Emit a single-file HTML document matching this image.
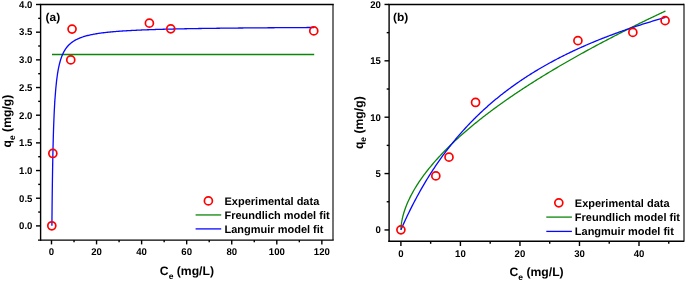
<!DOCTYPE html>
<html><head><meta charset="utf-8"><style>
html,body{margin:0;padding:0;background:#fff;}
svg{display:block;will-change:transform;}
text{font-family:"Liberation Sans",sans-serif;font-weight:bold;fill:#000;text-rendering:geometricPrecision;}
</style></head><body>
<svg width="685" height="283" viewBox="0 0 685 283">
<rect width="685" height="283" fill="#fff"/>
<line x1="39.85" y1="4.45" x2="333.75" y2="4.45" stroke="#000" stroke-width="1.4"/>
<line x1="40.60" y1="4.45" x2="40.60" y2="240.85" stroke="#000" stroke-width="1.4"/>
<line x1="38.00" y1="240.10" x2="333.75" y2="240.10" stroke="#000" stroke-width="1.4"/>
<line x1="333.00" y1="4.45" x2="333.00" y2="240.10" stroke="#000" stroke-width="1.1"/>
<line x1="51.50" y1="240.10" x2="51.50" y2="244.40" stroke="#000" stroke-width="1.4"/>
<text transform="translate(51.50,255.10) scale(0.96,0.98)" font-size="10" text-anchor="middle">0</text>
<line x1="96.56" y1="240.10" x2="96.56" y2="244.40" stroke="#000" stroke-width="1.4"/>
<text transform="translate(96.56,255.10) scale(0.96,0.98)" font-size="10" text-anchor="middle">20</text>
<line x1="141.62" y1="240.10" x2="141.62" y2="244.40" stroke="#000" stroke-width="1.4"/>
<text transform="translate(141.62,255.10) scale(0.96,0.98)" font-size="10" text-anchor="middle">40</text>
<line x1="186.68" y1="240.10" x2="186.68" y2="244.40" stroke="#000" stroke-width="1.4"/>
<text transform="translate(186.68,255.10) scale(0.96,0.98)" font-size="10" text-anchor="middle">60</text>
<line x1="231.74" y1="240.10" x2="231.74" y2="244.40" stroke="#000" stroke-width="1.4"/>
<text transform="translate(231.74,255.10) scale(0.96,0.98)" font-size="10" text-anchor="middle">80</text>
<line x1="276.80" y1="240.10" x2="276.80" y2="244.40" stroke="#000" stroke-width="1.4"/>
<text transform="translate(276.80,255.10) scale(0.96,0.98)" font-size="10" text-anchor="middle">100</text>
<line x1="321.86" y1="240.10" x2="321.86" y2="244.40" stroke="#000" stroke-width="1.4"/>
<text transform="translate(321.86,255.10) scale(0.96,0.98)" font-size="10" text-anchor="middle">120</text>
<line x1="74.03" y1="240.10" x2="74.03" y2="242.30" stroke="#000" stroke-width="1.4"/>
<line x1="119.09" y1="240.10" x2="119.09" y2="242.30" stroke="#000" stroke-width="1.4"/>
<line x1="164.15" y1="240.10" x2="164.15" y2="242.30" stroke="#000" stroke-width="1.4"/>
<line x1="209.21" y1="240.10" x2="209.21" y2="242.30" stroke="#000" stroke-width="1.4"/>
<line x1="254.27" y1="240.10" x2="254.27" y2="242.30" stroke="#000" stroke-width="1.4"/>
<line x1="299.33" y1="240.10" x2="299.33" y2="242.30" stroke="#000" stroke-width="1.4"/>
<line x1="36.00" y1="225.90" x2="40.60" y2="225.90" stroke="#000" stroke-width="1.4"/>
<text transform="translate(32.40,229.20) scale(0.96,0.98)" font-size="10" text-anchor="end">0.0</text>
<line x1="36.00" y1="198.22" x2="40.60" y2="198.22" stroke="#000" stroke-width="1.4"/>
<text transform="translate(32.40,201.53) scale(0.96,0.98)" font-size="10" text-anchor="end">0.5</text>
<line x1="36.00" y1="170.55" x2="40.60" y2="170.55" stroke="#000" stroke-width="1.4"/>
<text transform="translate(32.40,173.85) scale(0.96,0.98)" font-size="10" text-anchor="end">1.0</text>
<line x1="36.00" y1="142.88" x2="40.60" y2="142.88" stroke="#000" stroke-width="1.4"/>
<text transform="translate(32.40,146.18) scale(0.96,0.98)" font-size="10" text-anchor="end">1.5</text>
<line x1="36.00" y1="115.20" x2="40.60" y2="115.20" stroke="#000" stroke-width="1.4"/>
<text transform="translate(32.40,118.50) scale(0.96,0.98)" font-size="10" text-anchor="end">2.0</text>
<line x1="36.00" y1="87.53" x2="40.60" y2="87.53" stroke="#000" stroke-width="1.4"/>
<text transform="translate(32.40,90.83) scale(0.96,0.98)" font-size="10" text-anchor="end">2.5</text>
<line x1="36.00" y1="59.85" x2="40.60" y2="59.85" stroke="#000" stroke-width="1.4"/>
<text transform="translate(32.40,63.15) scale(0.96,0.98)" font-size="10" text-anchor="end">3.0</text>
<line x1="36.00" y1="32.18" x2="40.60" y2="32.18" stroke="#000" stroke-width="1.4"/>
<text transform="translate(32.40,35.48) scale(0.96,0.98)" font-size="10" text-anchor="end">3.5</text>
<line x1="36.00" y1="4.50" x2="40.60" y2="4.50" stroke="#000" stroke-width="1.4"/>
<text transform="translate(32.40,7.80) scale(0.96,0.98)" font-size="10" text-anchor="end">4.0</text>
<line x1="38.20" y1="212.06" x2="40.60" y2="212.06" stroke="#000" stroke-width="1.4"/>
<line x1="38.20" y1="184.39" x2="40.60" y2="184.39" stroke="#000" stroke-width="1.4"/>
<line x1="38.20" y1="156.71" x2="40.60" y2="156.71" stroke="#000" stroke-width="1.4"/>
<line x1="38.20" y1="129.04" x2="40.60" y2="129.04" stroke="#000" stroke-width="1.4"/>
<line x1="38.20" y1="101.36" x2="40.60" y2="101.36" stroke="#000" stroke-width="1.4"/>
<line x1="38.20" y1="73.69" x2="40.60" y2="73.69" stroke="#000" stroke-width="1.4"/>
<line x1="38.20" y1="46.01" x2="40.60" y2="46.01" stroke="#000" stroke-width="1.4"/>
<line x1="38.20" y1="18.34" x2="40.60" y2="18.34" stroke="#000" stroke-width="1.4"/>
<line x1="52.00" y1="54.50" x2="314.20" y2="54.50" stroke="#0a860a" stroke-width="1.3"/>
<path d="M51.90,225.80 L51.93,222.99 L51.95,220.25 L51.98,217.59 L52.00,215.00 L52.03,212.48 L52.05,210.03 L52.08,207.64 L52.10,205.31 L52.13,203.04 L52.15,200.83 L52.18,198.67 L52.20,196.57 L52.23,194.51 L52.25,192.51 L52.28,190.55 L52.30,188.64 L52.33,186.77 L52.35,184.94 L52.38,183.16 L52.40,181.41 L52.43,179.71 L52.45,178.04 L52.48,176.40 L52.51,174.80 L52.53,173.24 L52.56,171.71 L52.58,170.20 L52.61,168.73 L52.63,167.29 L52.66,165.88 L52.68,164.50 L52.71,163.14 L52.73,161.81 L52.76,160.50 L52.78,159.22 L52.81,157.97 L52.83,156.74 L52.86,155.53 L52.88,154.34 L52.91,153.17 L52.93,152.03 L52.96,150.90 L52.98,149.80 L53.01,148.72 L53.03,147.65 L53.06,146.60 L53.08,145.57 L53.11,144.56 L53.14,143.56 L53.16,142.59 L53.19,141.62 L53.21,140.68 L53.24,139.74 L53.26,138.83 L53.29,137.93 L53.31,137.04 L53.34,136.17 L53.36,135.31 L53.39,134.46 L53.41,133.63 L53.44,132.81 L53.46,132.00 L53.49,131.20 L53.51,130.42 L53.54,129.64 L53.56,128.88 L53.59,128.13 L53.61,127.39 L53.64,126.67 L53.66,125.95 L53.69,125.24 L53.72,124.54 L53.74,123.85 L53.77,123.17 L53.79,122.50 L53.82,121.84 L53.84,121.19 L53.87,120.55 L53.89,119.92 L53.92,119.29 L53.94,118.68 L53.97,118.07 L53.99,117.47 L54.02,116.87 L54.04,116.29 L54.07,115.71 L54.09,115.14 L54.12,114.58 L54.14,114.02 L54.17,113.47 L54.19,112.93 L54.22,112.39 L54.24,111.86 L54.27,111.34 L54.29,110.82 L54.32,110.31 L54.35,109.81 L54.37,109.31 L54.40,108.82 L54.42,108.33 L54.45,107.85 L54.47,107.38 L54.50,106.91 L54.52,106.44 L54.55,105.98 L54.57,105.53 L54.60,105.08 L54.62,104.64 L54.65,104.20 L54.67,103.77 L54.70,103.34 L54.72,102.91 L54.75,102.49 L54.77,102.08 L54.80,101.67 L54.82,101.26 L54.85,100.86 L54.87,100.46 L54.90,100.07 L54.90,100.07 L55.77,88.70 L56.63,80.36 L57.50,73.98 L58.36,68.94 L59.23,64.87 L60.10,61.50 L60.96,58.67 L61.83,56.26 L62.70,54.19 L63.56,52.38 L64.43,50.79 L65.29,49.38 L66.16,48.13 L67.03,47.00 L67.89,45.98 L68.76,45.06 L69.63,44.22 L70.49,43.45 L71.36,42.74 L72.22,42.09 L73.09,41.49 L73.96,40.93 L74.82,40.42 L75.69,39.93 L76.56,39.48 L77.42,39.06 L78.29,38.66 L79.15,38.29 L80.02,37.94 L80.89,37.60 L81.75,37.29 L82.62,36.99 L83.49,36.71 L84.35,36.44 L85.22,36.19 L86.08,35.95 L86.95,35.72 L87.82,35.50 L88.68,35.29 L89.55,35.09 L90.42,34.89 L91.28,34.71 L92.15,34.53 L93.01,34.36 L93.88,34.20 L94.75,34.05 L95.61,33.90 L96.48,33.75 L97.34,33.61 L98.21,33.48 L99.08,33.35 L99.94,33.22 L100.81,33.10 L101.68,32.98 L102.54,32.87 L103.41,32.76 L104.27,32.66 L105.14,32.55 L106.01,32.45 L106.87,32.36 L107.74,32.27 L108.61,32.17 L109.47,32.09 L110.34,32.00 L111.20,31.92 L112.07,31.84 L112.94,31.76 L113.80,31.68 L114.67,31.61 L115.54,31.54 L116.40,31.47 L117.27,31.40 L118.13,31.33 L119.00,31.27 L119.87,31.20 L120.73,31.14 L121.60,31.08 L122.47,31.02 L123.33,30.96 L124.20,30.91 L125.06,30.85 L125.93,30.80 L126.80,30.75 L127.66,30.69 L128.53,30.64 L129.39,30.60 L130.26,30.55 L131.13,30.50 L131.99,30.45 L132.86,30.41 L133.73,30.37 L134.59,30.32 L135.46,30.28 L136.32,30.24 L137.19,30.20 L138.06,30.16 L138.92,30.12 L139.79,30.08 L140.66,30.04 L141.52,30.01 L142.39,29.97 L143.25,29.93 L144.12,29.90 L144.99,29.87 L145.85,29.83 L146.72,29.80 L147.59,29.77 L148.45,29.73 L149.32,29.70 L150.18,29.67 L151.05,29.64 L151.92,29.61 L152.78,29.58 L153.65,29.55 L154.52,29.53 L155.38,29.50 L156.25,29.47 L157.11,29.44 L157.98,29.42 L158.85,29.39 L159.71,29.37 L160.58,29.34 L161.45,29.32 L162.31,29.29 L163.18,29.27 L164.04,29.24 L164.91,29.22 L165.78,29.20 L166.64,29.17 L167.51,29.15 L168.37,29.13 L169.24,29.11 L170.11,29.09 L170.97,29.07 L171.84,29.05 L172.71,29.03 L173.57,29.01 L174.44,28.99 L175.30,28.97 L176.17,28.95 L177.04,28.93 L177.90,28.91 L178.77,28.89 L179.64,28.87 L180.50,28.85 L181.37,28.84 L182.23,28.82 L183.10,28.80 L183.97,28.78 L184.83,28.77 L185.70,28.75 L186.57,28.73 L187.43,28.72 L188.30,28.70 L189.16,28.69 L190.03,28.67 L190.90,28.65 L191.76,28.64 L192.63,28.62 L193.50,28.61 L194.36,28.59 L195.23,28.58 L196.09,28.57 L196.96,28.55 L197.83,28.54 L198.69,28.52 L199.56,28.51 L200.43,28.50 L201.29,28.48 L202.16,28.47 L203.02,28.46 L203.89,28.44 L204.76,28.43 L205.62,28.42 L206.49,28.40 L207.35,28.39 L208.22,28.38 L209.09,28.37 L209.95,28.36 L210.82,28.34 L211.69,28.33 L212.55,28.32 L213.42,28.31 L214.28,28.30 L215.15,28.29 L216.02,28.28 L216.88,28.26 L217.75,28.25 L218.62,28.24 L219.48,28.23 L220.35,28.22 L221.21,28.21 L222.08,28.20 L222.95,28.19 L223.81,28.18 L224.68,28.17 L225.55,28.16 L226.41,28.15 L227.28,28.14 L228.14,28.13 L229.01,28.12 L229.88,28.11 L230.74,28.10 L231.61,28.09 L232.48,28.08 L233.34,28.07 L234.21,28.07 L235.07,28.06 L235.94,28.05 L236.81,28.04 L237.67,28.03 L238.54,28.02 L239.41,28.01 L240.27,28.00 L241.14,28.00 L242.00,27.99 L242.87,27.98 L243.74,27.97 L244.60,27.96 L245.47,27.96 L246.33,27.95 L247.20,27.94 L248.07,27.93 L248.93,27.92 L249.80,27.92 L250.67,27.91 L251.53,27.90 L252.40,27.89 L253.26,27.89 L254.13,27.88 L255.00,27.87 L255.86,27.86 L256.73,27.86 L257.60,27.85 L258.46,27.84 L259.33,27.84 L260.19,27.83 L261.06,27.82 L261.93,27.82 L262.79,27.81 L263.66,27.80 L264.53,27.80 L265.39,27.79 L266.26,27.78 L267.12,27.78 L267.99,27.77 L268.86,27.76 L269.72,27.76 L270.59,27.75 L271.46,27.74 L272.32,27.74 L273.19,27.73 L274.05,27.73 L274.92,27.72 L275.79,27.71 L276.65,27.71 L277.52,27.70 L278.38,27.70 L279.25,27.69 L280.12,27.68 L280.98,27.68 L281.85,27.67 L282.72,27.67 L283.58,27.66 L284.45,27.66 L285.31,27.65 L286.18,27.64 L287.05,27.64 L287.91,27.63 L288.78,27.63 L289.65,27.62 L290.51,27.62 L291.38,27.61 L292.24,27.61 L293.11,27.60 L293.98,27.60 L294.84,27.59 L295.71,27.59 L296.58,27.58 L297.44,27.58 L298.31,27.57 L299.17,27.57 L300.04,27.56 L300.91,27.56 L301.77,27.55 L302.64,27.55 L303.51,27.54 L304.37,27.54 L305.24,27.53 L306.10,27.53 L306.97,27.52 L307.84,27.52 L308.70,27.51 L309.57,27.51 L310.44,27.51 L311.30,27.50 L312.17,27.50 L313.03,27.49 L313.90,27.49" fill="none" stroke="#0808ff" stroke-width="1.3" stroke-linejoin="round" stroke-linecap="butt"/>
<circle cx="51.80" cy="225.80" r="4.0" fill="none" stroke="#ff0000" stroke-width="1.7"/>
<circle cx="52.84" cy="153.47" r="4.0" fill="none" stroke="#ff0000" stroke-width="1.7"/>
<circle cx="70.76" cy="59.91" r="4.0" fill="none" stroke="#ff0000" stroke-width="1.7"/>
<circle cx="72.05" cy="29.06" r="4.0" fill="none" stroke="#ff0000" stroke-width="1.7"/>
<circle cx="149.39" cy="23.14" r="4.0" fill="none" stroke="#ff0000" stroke-width="1.7"/>
<circle cx="170.74" cy="28.82" r="4.0" fill="none" stroke="#ff0000" stroke-width="1.7"/>
<circle cx="313.77" cy="30.90" r="4.0" fill="none" stroke="#ff0000" stroke-width="1.7"/>
<text transform="translate(45.5,20.7) scale(1,0.96)" font-size="12">(a)</text>
<circle cx="208.39" cy="200.91" r="4.0" fill="none" stroke="#ff0000" stroke-width="1.7"/>
<line x1="195.60" y1="214.95" x2="221.20" y2="214.95" stroke="#0a860a" stroke-width="1.3"/>
<line x1="195.60" y1="228.90" x2="221.20" y2="228.90" stroke="#0808ff" stroke-width="1.3"/>
<text x="224.50" y="204.70" font-size="11" text-anchor="start">Experimental data</text>
<text x="224.50" y="218.70" font-size="11" text-anchor="start">Freundlich model fit</text>
<text x="224.50" y="232.80" font-size="11" text-anchor="start">Langmuir model fit</text>
<text x="186.9" y="275.3" font-size="12.2" text-anchor="middle">C<tspan font-size="8.5" dy="3.7">e</tspan><tspan dy="-3.7"> (mg/L)</tspan></text>
<text transform="translate(11.2,121.1) rotate(-90)" font-size="12.2" text-anchor="middle">q<tspan font-size="8.5" dy="3.7">e</tspan><tspan dy="-3.7"> (mg/g)</tspan></text>
<line x1="388.35" y1="4.45" x2="684.00" y2="4.45" stroke="#000" stroke-width="1.4"/>
<line x1="389.10" y1="4.45" x2="389.10" y2="241.95" stroke="#000" stroke-width="1.4"/>
<line x1="388.35" y1="241.20" x2="684.00" y2="241.20" stroke="#000" stroke-width="1.4"/>
<line x1="684.00" y1="3.85" x2="684.00" y2="241.80" stroke="#000" stroke-width="1.1"/>
<line x1="400.90" y1="241.20" x2="400.90" y2="246.00" stroke="#000" stroke-width="1.4"/>
<text transform="translate(400.90,256.70) scale(0.96,0.98)" font-size="10" text-anchor="middle">0</text>
<line x1="460.42" y1="241.20" x2="460.42" y2="246.00" stroke="#000" stroke-width="1.4"/>
<text transform="translate(460.42,256.70) scale(0.96,0.98)" font-size="10" text-anchor="middle">10</text>
<line x1="519.95" y1="241.20" x2="519.95" y2="246.00" stroke="#000" stroke-width="1.4"/>
<text transform="translate(519.95,256.70) scale(0.96,0.98)" font-size="10" text-anchor="middle">20</text>
<line x1="579.47" y1="241.20" x2="579.47" y2="246.00" stroke="#000" stroke-width="1.4"/>
<text transform="translate(579.47,256.70) scale(0.96,0.98)" font-size="10" text-anchor="middle">30</text>
<line x1="639.00" y1="241.20" x2="639.00" y2="246.00" stroke="#000" stroke-width="1.4"/>
<text transform="translate(639.00,256.70) scale(0.96,0.98)" font-size="10" text-anchor="middle">40</text>
<line x1="430.66" y1="241.20" x2="430.66" y2="243.80" stroke="#000" stroke-width="1.4"/>
<line x1="490.19" y1="241.20" x2="490.19" y2="243.80" stroke="#000" stroke-width="1.4"/>
<line x1="549.71" y1="241.20" x2="549.71" y2="243.80" stroke="#000" stroke-width="1.4"/>
<line x1="609.24" y1="241.20" x2="609.24" y2="243.80" stroke="#000" stroke-width="1.4"/>
<line x1="668.76" y1="241.20" x2="668.76" y2="243.80" stroke="#000" stroke-width="1.4"/>
<line x1="384.50" y1="229.95" x2="389.10" y2="229.95" stroke="#000" stroke-width="1.4"/>
<text transform="translate(380.90,233.25) scale(0.96,0.98)" font-size="10" text-anchor="end">0</text>
<line x1="384.50" y1="173.57" x2="389.10" y2="173.57" stroke="#000" stroke-width="1.4"/>
<text transform="translate(380.90,176.88) scale(0.96,0.98)" font-size="10" text-anchor="end">5</text>
<line x1="384.50" y1="117.20" x2="389.10" y2="117.20" stroke="#000" stroke-width="1.4"/>
<text transform="translate(380.90,120.50) scale(0.96,0.98)" font-size="10" text-anchor="end">10</text>
<line x1="384.50" y1="60.82" x2="389.10" y2="60.82" stroke="#000" stroke-width="1.4"/>
<text transform="translate(380.90,64.12) scale(0.96,0.98)" font-size="10" text-anchor="end">15</text>
<line x1="384.50" y1="4.45" x2="389.10" y2="4.45" stroke="#000" stroke-width="1.4"/>
<text transform="translate(380.90,7.75) scale(0.96,0.98)" font-size="10" text-anchor="end">20</text>
<line x1="386.70" y1="201.76" x2="389.10" y2="201.76" stroke="#000" stroke-width="1.4"/>
<line x1="386.70" y1="145.39" x2="389.10" y2="145.39" stroke="#000" stroke-width="1.4"/>
<line x1="386.70" y1="89.01" x2="389.10" y2="89.01" stroke="#000" stroke-width="1.4"/>
<line x1="386.70" y1="32.64" x2="389.10" y2="32.64" stroke="#000" stroke-width="1.4"/>
<path d="M400.90,229.85 L400.91,229.05 L400.93,228.66 L400.94,228.35 L400.95,228.09 L400.97,227.85 L400.98,227.63 L400.99,227.43 L401.01,227.24 L401.02,227.06 L401.03,226.89 L401.05,226.72 L401.06,226.56 L401.07,226.41 L401.09,226.26 L401.10,226.12 L401.11,225.98 L401.13,225.85 L401.14,225.72 L401.16,225.59 L401.17,225.46 L401.18,225.34 L401.20,225.22 L401.21,225.10 L401.22,224.98 L401.24,224.87 L401.25,224.76 L401.26,224.65 L401.28,224.54 L401.29,224.43 L401.30,224.33 L401.32,224.22 L401.33,224.12 L401.34,224.02 L401.36,223.92 L401.37,223.82 L401.38,223.72 L401.40,223.63 L401.41,223.53 L401.42,223.44 L401.44,223.35 L401.45,223.26 L401.46,223.16 L401.48,223.07 L401.49,222.99 L401.50,222.90 L401.52,222.81 L401.53,222.72 L401.54,222.64 L401.56,222.55 L401.57,222.47 L401.58,222.39 L401.60,222.30 L401.61,222.22 L401.62,222.14 L401.64,222.06 L401.65,221.98 L401.67,221.90 L401.68,221.82 L401.69,221.74 L401.71,221.67 L401.72,221.59 L401.73,221.51 L401.75,221.44 L401.76,221.36 L401.77,221.29 L401.79,221.21 L401.80,221.14 L401.81,221.06 L401.83,220.99 L401.84,220.92 L401.85,220.85 L401.87,220.77 L401.88,220.70 L401.89,220.63 L401.91,220.56 L401.92,220.49 L401.93,220.42 L401.95,220.35 L401.96,220.28 L401.97,220.22 L401.99,220.15 L402.00,220.08 L402.01,220.01 L402.03,219.94 L402.04,219.88 L402.05,219.81 L402.07,219.75 L402.08,219.68 L402.09,219.61 L402.11,219.55 L402.12,219.48 L402.13,219.42 L402.15,219.36 L402.16,219.29 L402.18,219.23 L402.19,219.17 L402.20,219.10 L402.22,219.04 L402.23,218.98 L402.24,218.92 L402.26,218.85 L402.27,218.79 L402.28,218.73 L402.30,218.67 L402.31,218.61 L402.32,218.55 L402.34,218.49 L402.35,218.43 L402.36,218.37 L402.38,218.31 L402.39,218.25 L402.40,218.19 L402.42,218.13 L402.43,218.07 L402.44,218.01 L402.46,217.96 L402.47,217.90 L402.48,217.84 L402.50,217.78 L402.51,217.72 L402.52,217.67 L402.54,217.61 L402.55,217.55 L402.56,217.50 L402.58,217.44 L402.59,217.38 L402.60,217.33 L402.62,217.27 L402.63,217.22 L402.64,217.16 L402.66,217.11 L402.67,217.05 L402.69,217.00 L402.70,216.94 L402.71,216.89 L402.73,216.83 L402.74,216.78 L402.75,216.72 L402.77,216.67 L402.78,216.62 L402.79,216.56 L402.81,216.51 L402.82,216.46 L402.83,216.40 L402.85,216.35 L402.86,216.30 L402.87,216.25 L402.89,216.19 L402.90,216.14 L402.90,216.14 L403.78,213.00 L404.66,210.25 L405.53,207.77 L406.41,205.49 L407.29,203.36 L408.17,201.35 L409.05,199.44 L409.93,197.63 L410.80,195.88 L411.68,194.21 L412.56,192.59 L413.44,191.02 L414.32,189.50 L415.20,188.03 L416.07,186.59 L416.95,185.19 L417.83,183.82 L418.71,182.48 L419.59,181.17 L420.47,179.88 L421.34,178.62 L422.22,177.38 L423.10,176.17 L423.98,174.98 L424.86,173.80 L425.73,172.64 L426.61,171.51 L427.49,170.38 L428.37,169.28 L429.25,168.19 L430.13,167.11 L431.00,166.05 L431.88,165.00 L432.76,163.96 L433.64,162.94 L434.52,161.93 L435.40,160.93 L436.27,159.94 L437.15,158.96 L438.03,157.99 L438.91,157.03 L439.79,156.08 L440.67,155.14 L441.54,154.21 L442.42,153.29 L443.30,152.37 L444.18,151.47 L445.06,150.57 L445.93,149.68 L446.81,148.79 L447.69,147.92 L448.57,147.05 L449.45,146.19 L450.33,145.33 L451.20,144.48 L452.08,143.64 L452.96,142.81 L453.84,141.98 L454.72,141.15 L455.60,140.34 L456.47,139.52 L457.35,138.72 L458.23,137.91 L459.11,137.12 L459.99,136.33 L460.87,135.54 L461.74,134.76 L462.62,133.99 L463.50,133.21 L464.38,132.45 L465.26,131.69 L466.13,130.93 L467.01,130.18 L467.89,129.43 L468.77,128.68 L469.65,127.94 L470.53,127.21 L471.40,126.47 L472.28,125.74 L473.16,125.02 L474.04,124.30 L474.92,123.58 L475.80,122.87 L476.67,122.16 L477.55,121.45 L478.43,120.75 L479.31,120.05 L480.19,119.36 L481.07,118.66 L481.94,117.97 L482.82,117.29 L483.70,116.61 L484.58,115.93 L485.46,115.25 L486.33,114.58 L487.21,113.91 L488.09,113.24 L488.97,112.57 L489.85,111.91 L490.73,111.25 L491.60,110.60 L492.48,109.94 L493.36,109.29 L494.24,108.64 L495.12,108.00 L496.00,107.36 L496.87,106.72 L497.75,106.08 L498.63,105.44 L499.51,104.81 L500.39,104.18 L501.27,103.55 L502.14,102.93 L503.02,102.30 L503.90,101.68 L504.78,101.06 L505.66,100.45 L506.53,99.83 L507.41,99.22 L508.29,98.61 L509.17,98.00 L510.05,97.40 L510.93,96.79 L511.80,96.19 L512.68,95.59 L513.56,95.00 L514.44,94.40 L515.32,93.81 L516.20,93.22 L517.07,92.63 L517.95,92.04 L518.83,91.46 L519.71,90.87 L520.59,90.29 L521.47,89.71 L522.34,89.13 L523.22,88.56 L524.10,87.98 L524.98,87.41 L525.86,86.84 L526.73,86.27 L527.61,85.70 L528.49,85.14 L529.37,84.57 L530.25,84.01 L531.13,83.45 L532.00,82.89 L532.88,82.33 L533.76,81.78 L534.64,81.22 L535.52,80.67 L536.40,80.12 L537.27,79.57 L538.15,79.02 L539.03,78.47 L539.91,77.93 L540.79,77.38 L541.67,76.84 L542.54,76.30 L543.42,75.76 L544.30,75.22 L545.18,74.69 L546.06,74.15 L546.93,73.62 L547.81,73.09 L548.69,72.56 L549.57,72.03 L550.45,71.50 L551.33,70.97 L552.20,70.45 L553.08,69.92 L553.96,69.40 L554.84,68.88 L555.72,68.36 L556.60,67.84 L557.47,67.32 L558.35,66.81 L559.23,66.29 L560.11,65.78 L560.99,65.26 L561.87,64.75 L562.74,64.24 L563.62,63.73 L564.50,63.23 L565.38,62.72 L566.26,62.21 L567.13,61.71 L568.01,61.21 L568.89,60.70 L569.77,60.20 L570.65,59.70 L571.53,59.20 L572.40,58.71 L573.28,58.21 L574.16,57.72 L575.04,57.22 L575.92,56.73 L576.80,56.24 L577.67,55.74 L578.55,55.25 L579.43,54.77 L580.31,54.28 L581.19,53.79 L582.07,53.30 L582.94,52.82 L583.82,52.34 L584.70,51.85 L585.58,51.37 L586.46,50.89 L587.33,50.41 L588.21,49.93 L589.09,49.45 L589.97,48.98 L590.85,48.50 L591.73,48.03 L592.60,47.55 L593.48,47.08 L594.36,46.61 L595.24,46.14 L596.12,45.66 L597.00,45.20 L597.87,44.73 L598.75,44.26 L599.63,43.79 L600.51,43.33 L601.39,42.86 L602.27,42.40 L603.14,41.93 L604.02,41.47 L604.90,41.01 L605.78,40.55 L606.66,40.09 L607.53,39.63 L608.41,39.17 L609.29,38.72 L610.17,38.26 L611.05,37.80 L611.93,37.35 L612.80,36.90 L613.68,36.44 L614.56,35.99 L615.44,35.54 L616.32,35.09 L617.20,34.64 L618.07,34.19 L618.95,33.74 L619.83,33.29 L620.71,32.85 L621.59,32.40 L622.47,31.95 L623.34,31.51 L624.22,31.07 L625.10,30.62 L625.98,30.18 L626.86,29.74 L627.73,29.30 L628.61,28.86 L629.49,28.42 L630.37,27.98 L631.25,27.54 L632.13,27.11 L633.00,26.67 L633.88,26.23 L634.76,25.80 L635.64,25.37 L636.52,24.93 L637.40,24.50 L638.27,24.07 L639.15,23.64 L640.03,23.20 L640.91,22.77 L641.79,22.35 L642.67,21.92 L643.54,21.49 L644.42,21.06 L645.30,20.63 L646.18,20.21 L647.06,19.78 L647.93,19.36 L648.81,18.93 L649.69,18.51 L650.57,18.09 L651.45,17.67 L652.33,17.24 L653.20,16.82 L654.08,16.40 L654.96,15.98 L655.84,15.57 L656.72,15.15 L657.60,14.73 L658.47,14.31 L659.35,13.90 L660.23,13.48 L661.11,13.06 L661.99,12.65 L662.87,12.24 L663.74,11.82 L664.62,11.41 L665.50,11.00" fill="none" stroke="#0a860a" stroke-width="1.3" stroke-linejoin="round" stroke-linecap="butt"/>
<path d="M400.90,229.85 L400.91,229.82 L400.93,229.79 L400.94,229.76 L400.95,229.73 L400.97,229.70 L400.98,229.67 L400.99,229.63 L401.01,229.60 L401.02,229.57 L401.03,229.54 L401.05,229.51 L401.06,229.48 L401.07,229.45 L401.09,229.42 L401.10,229.39 L401.11,229.36 L401.13,229.33 L401.14,229.30 L401.16,229.27 L401.17,229.24 L401.18,229.21 L401.20,229.18 L401.21,229.14 L401.22,229.11 L401.24,229.08 L401.25,229.05 L401.26,229.02 L401.28,228.99 L401.29,228.96 L401.30,228.93 L401.32,228.90 L401.33,228.87 L401.34,228.84 L401.36,228.81 L401.37,228.78 L401.38,228.75 L401.40,228.72 L401.41,228.69 L401.42,228.66 L401.44,228.63 L401.45,228.59 L401.46,228.56 L401.48,228.53 L401.49,228.50 L401.50,228.47 L401.52,228.44 L401.53,228.41 L401.54,228.38 L401.56,228.35 L401.57,228.32 L401.58,228.29 L401.60,228.26 L401.61,228.23 L401.62,228.20 L401.64,228.17 L401.65,228.14 L401.67,228.11 L401.68,228.08 L401.69,228.05 L401.71,228.02 L401.72,227.99 L401.73,227.96 L401.75,227.92 L401.76,227.89 L401.77,227.86 L401.79,227.83 L401.80,227.80 L401.81,227.77 L401.83,227.74 L401.84,227.71 L401.85,227.68 L401.87,227.65 L401.88,227.62 L401.89,227.59 L401.91,227.56 L401.92,227.53 L401.93,227.50 L401.95,227.47 L401.96,227.44 L401.97,227.41 L401.99,227.38 L402.00,227.35 L402.01,227.32 L402.03,227.29 L402.04,227.26 L402.05,227.23 L402.07,227.20 L402.08,227.17 L402.09,227.14 L402.11,227.11 L402.12,227.08 L402.13,227.05 L402.15,227.02 L402.16,226.99 L402.18,226.96 L402.19,226.93 L402.20,226.90 L402.22,226.87 L402.23,226.83 L402.24,226.80 L402.26,226.77 L402.27,226.74 L402.28,226.71 L402.30,226.68 L402.31,226.65 L402.32,226.62 L402.34,226.59 L402.35,226.56 L402.36,226.53 L402.38,226.50 L402.39,226.47 L402.40,226.44 L402.42,226.41 L402.43,226.38 L402.44,226.35 L402.46,226.32 L402.47,226.29 L402.48,226.26 L402.50,226.23 L402.51,226.20 L402.52,226.17 L402.54,226.14 L402.55,226.11 L402.56,226.08 L402.58,226.05 L402.59,226.02 L402.60,225.99 L402.62,225.96 L402.63,225.93 L402.64,225.90 L402.66,225.87 L402.67,225.84 L402.69,225.81 L402.70,225.78 L402.71,225.75 L402.73,225.72 L402.74,225.69 L402.75,225.66 L402.77,225.63 L402.78,225.60 L402.79,225.57 L402.81,225.54 L402.82,225.51 L402.83,225.48 L402.85,225.45 L402.86,225.42 L402.87,225.39 L402.89,225.36 L402.90,225.33 L402.90,225.33 L403.78,223.39 L404.66,221.47 L405.53,219.57 L406.41,217.69 L407.29,215.84 L408.17,214.01 L409.05,212.20 L409.93,210.41 L410.80,208.64 L411.68,206.89 L412.56,205.16 L413.44,203.45 L414.32,201.76 L415.20,200.09 L416.07,198.44 L416.95,196.80 L417.83,195.19 L418.71,193.59 L419.59,192.01 L420.47,190.44 L421.34,188.90 L422.22,187.36 L423.10,185.85 L423.98,184.35 L424.86,182.87 L425.73,181.40 L426.61,179.95 L427.49,178.51 L428.37,177.09 L429.25,175.68 L430.13,174.29 L431.00,172.91 L431.88,171.54 L432.76,170.19 L433.64,168.86 L434.52,167.53 L435.40,166.22 L436.27,164.92 L437.15,163.64 L438.03,162.36 L438.91,161.10 L439.79,159.85 L440.67,158.62 L441.54,157.39 L442.42,156.18 L443.30,154.98 L444.18,153.79 L445.06,152.61 L445.93,151.44 L446.81,150.28 L447.69,149.14 L448.57,148.00 L449.45,146.87 L450.33,145.76 L451.20,144.65 L452.08,143.56 L452.96,142.47 L453.84,141.40 L454.72,140.33 L455.60,139.28 L456.47,138.23 L457.35,137.19 L458.23,136.16 L459.11,135.14 L459.99,134.13 L460.87,133.13 L461.74,132.14 L462.62,131.15 L463.50,130.17 L464.38,129.21 L465.26,128.25 L466.13,127.29 L467.01,126.35 L467.89,125.41 L468.77,124.49 L469.65,123.57 L470.53,122.65 L471.40,121.75 L472.28,120.85 L473.16,119.96 L474.04,119.08 L474.92,118.20 L475.80,117.33 L476.67,116.47 L477.55,115.61 L478.43,114.76 L479.31,113.92 L480.19,113.09 L481.07,112.26 L481.94,111.44 L482.82,110.62 L483.70,109.81 L484.58,109.01 L485.46,108.21 L486.33,107.42 L487.21,106.64 L488.09,105.86 L488.97,105.09 L489.85,104.32 L490.73,103.56 L491.60,102.80 L492.48,102.05 L493.36,101.31 L494.24,100.57 L495.12,99.84 L496.00,99.11 L496.87,98.39 L497.75,97.67 L498.63,96.96 L499.51,96.25 L500.39,95.55 L501.27,94.86 L502.14,94.16 L503.02,93.48 L503.90,92.80 L504.78,92.12 L505.66,91.45 L506.53,90.78 L507.41,90.12 L508.29,89.46 L509.17,88.81 L510.05,88.16 L510.93,87.51 L511.80,86.87 L512.68,86.24 L513.56,85.61 L514.44,84.98 L515.32,84.36 L516.20,83.74 L517.07,83.13 L517.95,82.52 L518.83,81.91 L519.71,81.31 L520.59,80.71 L521.47,80.12 L522.34,79.53 L523.22,78.95 L524.10,78.36 L524.98,77.79 L525.86,77.21 L526.73,76.64 L527.61,76.07 L528.49,75.51 L529.37,74.95 L530.25,74.40 L531.13,73.84 L532.00,73.30 L532.88,72.75 L533.76,72.21 L534.64,71.67 L535.52,71.14 L536.40,70.60 L537.27,70.08 L538.15,69.55 L539.03,69.03 L539.91,68.51 L540.79,68.00 L541.67,67.49 L542.54,66.98 L543.42,66.47 L544.30,65.97 L545.18,65.47 L546.06,64.97 L546.93,64.48 L547.81,63.99 L548.69,63.50 L549.57,63.02 L550.45,62.54 L551.33,62.06 L552.20,61.58 L553.08,61.11 L553.96,60.64 L554.84,60.17 L555.72,59.71 L556.60,59.24 L557.47,58.79 L558.35,58.33 L559.23,57.88 L560.11,57.42 L560.99,56.98 L561.87,56.53 L562.74,56.09 L563.62,55.65 L564.50,55.21 L565.38,54.77 L566.26,54.34 L567.13,53.91 L568.01,53.48 L568.89,53.05 L569.77,52.63 L570.65,52.21 L571.53,51.79 L572.40,51.37 L573.28,50.96 L574.16,50.55 L575.04,50.14 L575.92,49.73 L576.80,49.32 L577.67,48.92 L578.55,48.52 L579.43,48.12 L580.31,47.73 L581.19,47.33 L582.07,46.94 L582.94,46.55 L583.82,46.16 L584.70,45.78 L585.58,45.39 L586.46,45.01 L587.33,44.63 L588.21,44.25 L589.09,43.88 L589.97,43.51 L590.85,43.13 L591.73,42.76 L592.60,42.40 L593.48,42.03 L594.36,41.67 L595.24,41.31 L596.12,40.94 L597.00,40.59 L597.87,40.23 L598.75,39.88 L599.63,39.52 L600.51,39.17 L601.39,38.82 L602.27,38.48 L603.14,38.13 L604.02,37.79 L604.90,37.44 L605.78,37.10 L606.66,36.77 L607.53,36.43 L608.41,36.09 L609.29,35.76 L610.17,35.43 L611.05,35.10 L611.93,34.77 L612.80,34.44 L613.68,34.12 L614.56,33.79 L615.44,33.47 L616.32,33.15 L617.20,32.83 L618.07,32.51 L618.95,32.20 L619.83,31.88 L620.71,31.57 L621.59,31.26 L622.47,30.95 L623.34,30.64 L624.22,30.34 L625.10,30.03 L625.98,29.73 L626.86,29.42 L627.73,29.12 L628.61,28.82 L629.49,28.52 L630.37,28.23 L631.25,27.93 L632.13,27.64 L633.00,27.35 L633.88,27.05 L634.76,26.76 L635.64,26.48 L636.52,26.19 L637.40,25.90 L638.27,25.62 L639.15,25.34 L640.03,25.05 L640.91,24.77 L641.79,24.49 L642.67,24.22 L643.54,23.94 L644.42,23.66 L645.30,23.39 L646.18,23.12 L647.06,22.84 L647.93,22.57 L648.81,22.30 L649.69,22.04 L650.57,21.77 L651.45,21.50 L652.33,21.24 L653.20,20.97 L654.08,20.71 L654.96,20.45 L655.84,20.19 L656.72,19.93 L657.60,19.67 L658.47,19.42 L659.35,19.16 L660.23,18.91 L661.11,18.66 L661.99,18.40 L662.87,18.15 L663.74,17.90 L664.62,17.65 L665.50,17.41" fill="none" stroke="#0808ff" stroke-width="1.3" stroke-linejoin="round" stroke-linecap="butt"/>
<circle cx="400.90" cy="229.85" r="4.0" fill="none" stroke="#ff0000" stroke-width="1.7"/>
<circle cx="435.82" cy="175.90" r="4.0" fill="none" stroke="#ff0000" stroke-width="1.7"/>
<circle cx="449.00" cy="157.14" r="4.0" fill="none" stroke="#ff0000" stroke-width="1.7"/>
<circle cx="475.56" cy="102.47" r="4.0" fill="none" stroke="#ff0000" stroke-width="1.7"/>
<circle cx="577.91" cy="40.68" r="4.0" fill="none" stroke="#ff0000" stroke-width="1.7"/>
<circle cx="632.85" cy="32.39" r="4.0" fill="none" stroke="#ff0000" stroke-width="1.7"/>
<circle cx="665.10" cy="20.63" r="4.0" fill="none" stroke="#ff0000" stroke-width="1.7"/>
<text transform="translate(393.0,20.7) scale(1,0.96)" font-size="12">(b)</text>
<circle cx="558.82" cy="202.82" r="4.0" fill="none" stroke="#ff0000" stroke-width="1.7"/>
<line x1="546.30" y1="217.10" x2="571.90" y2="217.10" stroke="#0a860a" stroke-width="1.3"/>
<line x1="546.30" y1="231.40" x2="571.90" y2="231.40" stroke="#0808ff" stroke-width="1.3"/>
<text x="574.80" y="207.10" font-size="11" text-anchor="start">Experimental data</text>
<text x="574.80" y="221.10" font-size="11" text-anchor="start">Freundlich model fit</text>
<text x="574.80" y="235.30" font-size="11" text-anchor="start">Langmuir model fit</text>
<text x="536.6" y="276.3" font-size="12.2" text-anchor="middle">C<tspan font-size="8.5" dy="3.7">e</tspan><tspan dy="-3.7"> (mg/L)</tspan></text>
<text transform="translate(362.7,122.7) rotate(-90)" font-size="12.2" text-anchor="middle">q<tspan font-size="8.5" dy="3.7">e</tspan><tspan dy="-3.7"> (mg/g)</tspan></text>
</svg>
</body></html>
